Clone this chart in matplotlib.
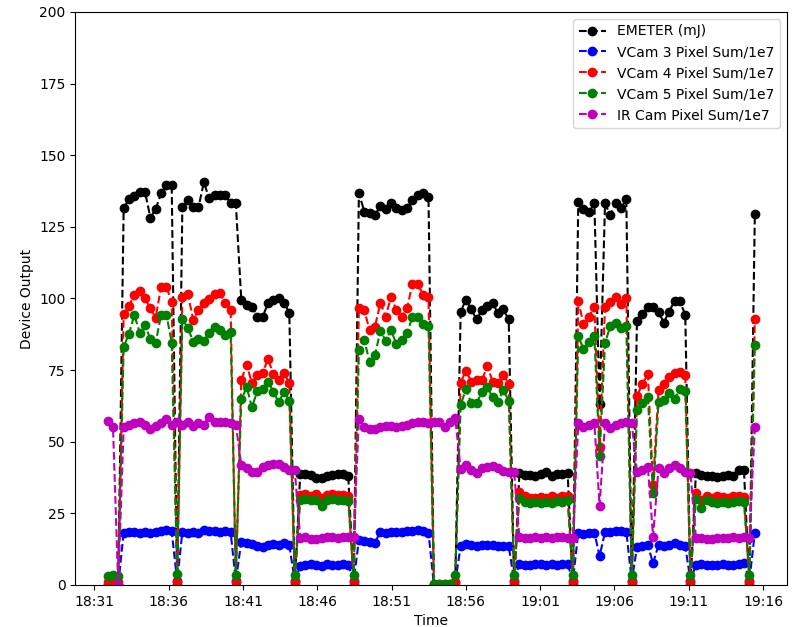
import numpy as np
import pandas as pd
import matplotlib
matplotlib.use("Agg")
import matplotlib.pyplot as plt
import matplotlib.dates as mdates

# sample times (HH:MM:SS)
times = [
    "18:31:53", "18:32:15", "18:32:36", "18:32:58", "18:33:19", "18:33:41", "18:34:03", "18:34:24",
    "18:34:46", "18:35:07", "18:35:29", "18:35:51", "18:36:12", "18:36:34", "18:36:55", "18:37:17",
    "18:37:39", "18:38:00", "18:38:22", "18:38:43", "18:39:05", "18:39:27", "18:39:48", "18:40:10",
    "18:40:31", "18:40:53", "18:41:15", "18:41:36", "18:41:58", "18:42:19", "18:42:41", "18:43:03",
    "18:43:24", "18:43:46", "18:44:07", "18:44:29", "18:44:51", "18:45:12", "18:45:34", "18:45:55",
    "18:46:17", "18:46:39", "18:47:00", "18:47:22", "18:47:43", "18:48:05", "18:48:27", "18:48:48",
    "18:49:10", "18:49:31", "18:49:53", "18:50:15", "18:50:36", "18:50:58", "18:51:19", "18:51:41",
    "18:52:03", "18:52:24", "18:52:46", "18:53:07", "18:53:29", "18:53:51", "18:54:12", "18:54:34",
    "18:54:55", "18:55:17", "18:55:39", "18:56:00", "18:56:22", "18:56:43", "18:57:05", "18:57:27",
    "18:57:48", "18:58:10", "18:58:31", "18:58:53", "18:59:15", "18:59:36", "18:59:58", "19:00:19",
    "19:00:41", "19:01:03", "19:01:24", "19:01:46", "19:02:07", "19:02:29", "19:02:51", "19:03:12",
    "19:03:34", "19:03:55", "19:04:17", "19:04:39", "19:05:00", "19:05:22", "19:05:43", "19:06:05",
    "19:06:27", "19:06:48", "19:07:10", "19:07:31", "19:07:53", "19:08:15", "19:08:36", "19:08:58",
    "19:09:19", "19:09:41", "19:10:03", "19:10:24", "19:10:46", "19:11:07", "19:11:29", "19:11:51",
    "19:12:12", "19:12:34", "19:12:55", "19:13:17", "19:13:39", "19:14:00", "19:14:22", "19:14:43",
    "19:15:05", "19:15:27",
]

emeter = [
    0, 0, 0,
    131.5, 134.6, 135.8, 137.3, 137.3, 128.2, 131.1, 136.7, 139.6, 139.6,
    0,
    131.8, 134.4, 131.8, 131.8, 140.5, 135.0, 136.1, 136.0, 136.0, 133.2, 133.2,
    99.5, 97.7, 97.1, 93.6, 93.6, 98.3, 99.5, 100.0, 98.5, 95.0,
    0,
    38.7, 38.9, 38.4, 37.5, 37.2, 38.0, 38.3, 38.6, 38.7, 38.2,
    0,
    136.7, 130.3, 129.7, 129.1, 132.3, 131.1, 133.4, 131.5, 130.7, 131.5, 134.4, 136.1, 136.9, 135.5,
    0, 0, 0, 0, 0,
    95.4, 99.5, 96.2, 92.7, 96.0, 97.2, 98.3, 94.8, 96.2, 92.7,
    0,
    39.0, 38.3, 38.5, 38.0, 38.8, 39.5, 38.2, 38.9, 38.6, 39.0,
    0,
    133.8, 131.1, 130.0, 133.2, 63.1, 133.2, 129.1, 133.2, 131.5, 134.6,
    0,
    92.3, 94.6, 97.1, 97.1, 95.4, 91.6, 95.4, 99.2, 99.2, 94.2,
    0,
    39.0, 38.5, 38.2, 38.0, 37.8, 38.0, 38.3, 38.2, 40.0, 40.1,
    0,
    129.5,
]

vcam3 = [
    0, 0, 0,
    18.3, 18.5, 18.4, 18.2, 18.6, 18.0, 18.5, 19.0, 19.1, 18.7,
    1.5,
    18.4, 18.2, 18.6, 18.3, 19.2, 18.7, 18.8, 18.6, 18.9, 18.4, 1.5,
    15.1, 14.5, 14.2, 13.6, 13.4, 13.9, 14.3, 14.0, 14.6, 13.8,
    1.5,
    6.5, 7.0, 7.3, 7.1, 6.8, 7.2, 7.0, 6.9, 7.4, 7.0,
    1.5,
    15.7, 15.2, 14.9, 14.8, 18.6, 18.3, 18.5, 18.4, 18.6, 18.8, 19.0, 19.2, 18.9, 18.3,
    0, 0, 0, 0, 1.0,
    13.6, 14.3, 13.9, 13.5, 13.8, 14.0, 13.9, 13.7, 13.5, 13.6,
    1.5,
    7.4, 7.0, 6.9, 7.2, 7.5, 7.1, 7.3, 7.0, 7.4, 7.2,
    1.5,
    18.3, 17.9, 18.1, 18.3, 10.1, 18.5, 18.5, 18.7, 18.7, 18.6,
    1.5,
    13.1, 13.6, 13.9, 7.6, 13.9, 13.6, 13.9, 14.5, 13.9, 13.6,
    1.5,
    7.0, 7.3, 7.1, 6.9, 7.0, 7.2, 7.1, 7.0, 7.4, 7.6,
    1.5,
    18.3,
]

vcam4 = [
    1.0, 1.0, 1.0,
    94.5, 97.4, 101.2, 102.7, 100.0, 96.6, 93.3, 103.9, 103.9, 98.9,
    1.0,
    100.5, 101.6, 92.5, 96.0, 98.3, 99.7, 101.6, 101.8, 98.3, 96.0, 1.0,
    71.6, 76.8, 70.4, 73.3, 74.1, 78.8, 73.5, 71.6, 73.9, 70.4,
    1.0,
    31.5, 31.8, 31.2, 31.6, 30.5, 31.4, 31.7, 31.3, 31.5, 31.0,
    1.0,
    96.6, 95.8, 89.0, 90.2, 98.5, 93.7, 100.6, 96.0, 93.7, 96.6, 105.1, 105.1, 101.2, 100.6,
    0.2, 0.2, 0.2, 0.2, 1.0,
    70.6, 74.8, 71.0, 71.6, 71.6, 76.4, 71.0, 70.6, 73.3, 70.2,
    1.0,
    32.6, 31.0, 30.5, 30.2, 30.8, 30.4, 30.9, 30.5, 31.0, 31.2,
    1.0,
    99.2, 91.1, 93.7, 97.1, 48.3, 97.1, 98.9, 100.4, 98.1, 100.1,
    1.0,
    66.0, 70.2, 73.6, 35.0, 68.1, 70.2, 72.5, 73.9, 74.5, 73.3,
    1.0,
    32.0, 29.5, 31.0, 30.5, 31.2, 30.8, 30.4, 30.9, 31.0, 30.8,
    1.0,
    92.7,
]

vcam5 = [
    3.0, 3.5, 3.0,
    83.2, 87.5, 94.2, 88.1, 90.8, 85.8, 84.4, 94.2, 94.2, 84.6,
    4.0,
    92.7, 89.8, 84.9, 85.8, 85.2, 87.8, 90.2, 89.0, 87.3, 88.4, 3.5,
    64.8, 69.0, 62.0, 67.8, 68.3, 71.0, 67.5, 63.7, 67.5, 64.3,
    3.5,
    29.5, 30.0, 29.8, 29.6, 27.4, 29.7, 30.0, 29.5, 29.8, 29.2,
    3.5,
    82.0, 85.5, 77.9, 80.3, 88.8, 85.3, 89.0, 84.1, 85.5, 88.1, 93.4, 93.4, 91.1, 90.4,
    0.5, 0.5, 0.5, 0.5, 3.5,
    62.8, 68.3, 63.4, 63.4, 67.5, 69.0, 65.5, 64.0, 68.1, 64.3,
    3.5,
    30.5, 29.0, 28.6, 28.8, 28.5, 29.0, 28.7, 29.2, 28.8, 29.5,
    3.5,
    86.9, 82.3, 84.9, 86.9, 45.0, 84.3, 90.4, 91.6, 89.6, 90.4,
    3.5,
    60.9, 63.4, 65.7, 32.0, 63.7, 64.6, 67.1, 64.8, 68.3, 67.8,
    3.5,
    30.0, 26.8, 29.5, 29.0, 28.5, 28.8, 28.6, 29.0, 29.2, 29.0,
    3.5,
    83.8,
]

ircam = [
    57.3, 55.0, 0.0,
    55.0, 56.0, 56.5, 57.0, 56.0, 54.5, 55.5, 56.5, 58.0, 56.0,
    57.0,
    56.0, 57.0, 55.5, 56.5, 56.0, 58.5, 57.0, 57.0, 57.0, 56.5, 56.0,
    41.9, 41.0, 39.5, 39.5, 41.3, 41.9, 42.2, 42.2, 41.3, 40.1,
    40.1,
    16.5, 16.8, 16.2, 16.0, 16.5, 16.8, 16.6, 16.4, 16.7, 16.9,
    16.9,
    57.8, 55.0, 54.5, 54.5, 55.0, 55.5, 55.5, 55.0, 55.5, 56.0, 56.5, 57.0, 57.0, 56.5,
    57.0, 57.0, 55.3, 57.0, 58.2,
    40.4, 41.9, 40.1, 39.0, 40.7, 41.3, 41.5, 40.7, 39.9, 39.5,
    39.5,
    16.9, 16.5, 16.3, 16.6, 16.4, 16.7, 16.5, 16.6, 16.8, 16.5,
    16.3,
    56.4, 55.3, 55.8, 56.4, 27.6, 56.4, 54.9, 55.8, 56.4, 57.0,
    56.4,
    39.5, 40.1, 41.3, 16.9, 40.7, 39.2, 40.7, 41.9, 40.7, 39.5,
    39.2,
    16.5, 16.3, 16.0, 16.2, 16.4, 16.3, 16.5, 16.6, 16.4, 16.8,
    16.5,
    55.0,
]

t = pd.to_datetime(["2018-01-01 " + s for s in times]).to_pydatetime()

fig = plt.figure(figsize=(8, 6.27), dpi=100)
ax = fig.add_axes([0.094, 0.067, 0.89, 0.914])

ax.plot(t, emeter, "ko--", label="EMETER (mJ)")
ax.plot(t, vcam3, "bo--", label="VCam 3 Pixel Sum/1e7")
ax.plot(t, vcam4, "ro--", label="VCam 4 Pixel Sum/1e7")
ax.plot(t, vcam5, "go--", label="VCam 5 Pixel Sum/1e7")
ax.plot(t, ircam, "mo--", label="IR Cam Pixel Sum/1e7")

ax.set_ylim(0, 200)
ax.set_yticks(np.arange(0, 201, 25))
ax.xaxis.set_major_locator(mdates.MinuteLocator(byminute=range(1, 60, 5)))
ax.xaxis.set_major_formatter(mdates.DateFormatter("%H:%M"))

ax.set_xlabel("Time")
ax.set_ylabel("Device Output")
ax.legend(loc="upper right")

fig.savefig("out.png", dpi=100)
